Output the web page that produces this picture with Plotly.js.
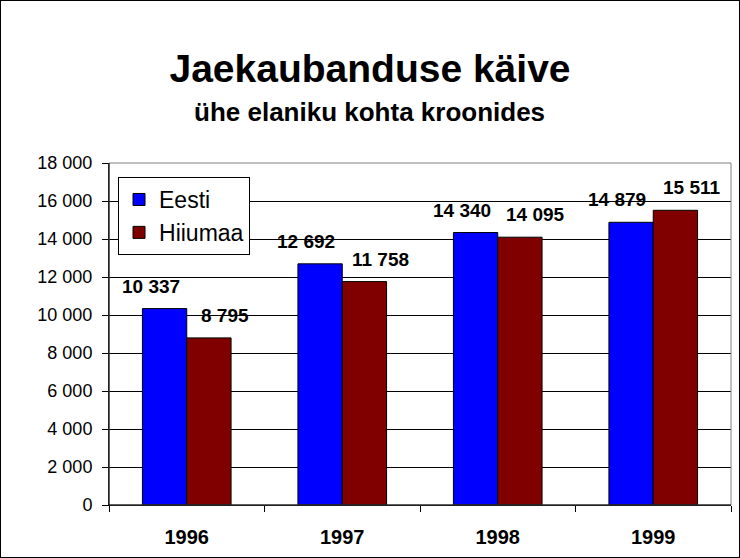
<!DOCTYPE html>
<html>
<head>
<meta charset="utf-8">
<script src="https://cdn.plot.ly/plotly-3.0.1.min.js"></script>
<style>
html,body{margin:0;padding:0;background:#fff;}
#wrap{width:740px;height:558px;box-sizing:border-box;border:1px solid #000;}
#chart{width:738px;height:556px;}
</style>
</head>
<body>
<div id="wrap"><div id="chart"></div></div>
<script>
const years = ["1996", "1997", "1998", "1999"];
const eesti = [10337, 12692, 14340, 14879];
const hiiumaa = [8795, 11758, 14095, 15511];
const seriesNames = ["Eesti", "Hiiumaa"];
const titleText = "Jaekaubanduse käive";
const subtitleText = "ühe elaniku kohta kroonides";

const FONT = "Liberation Sans, Arial, sans-serif";
const colors = ["#0000FF", "#800000"];
const series = [eesti, hiiumaa];
const labelXShift = [-36, 38];

const traces = series.map((vals, i) => ({
  type: "bar",
  x: years,
  y: vals,
  name: seriesNames[i],
  legendgroup: "g" + i,
  marker: {color: colors[i], line: {color: "#000", width: 1}},
  hoverinfo: "skip"
}));

function fmt(v){ return String(v).replace(/\B(?=(\d{3})+(?!\d))/g, " "); }

const annotations = [];
series.forEach((vals, i) => {
  vals.forEach((v, j) => {
    annotations.push({
      x: j, y: v, xref: "x", yref: "y",
      text: fmt(v), showarrow: false,
      xshift: labelXShift[i], yshift: 10,
      yanchor: "bottom",
      font: {family: FONT, size: 19, color: "#000", weight: "bold"}
    });
  });
});
annotations.push({
  xref: "paper", yref: "paper", x: 0.4196, y: 1.149,
  xanchor: "center", yanchor: "middle", showarrow: false,
  text: "<b>" + subtitleText + "</b>",
  font: {family: FONT, size: 26, color: "#000"}
});

const layout = {
  width: 738, height: 556,
  margin: {l: 108, r: 8, t: 162, b: 52},
  paper_bgcolor: "#fff", plot_bgcolor: "#fff",
  separators: ", ",
  showlegend: true,
  bargap: 0.43, bargroupgap: 0,
  barmode: "group",
  title: {
    text: "<b>" + titleText + "</b>",
    xref: "container", x: 0.5, xanchor: "center",
    yref: "container", y: 1 - 67/556, yanchor: "middle",
    font: {family: FONT, size: 39, color: "#000"}
  },
  xaxis: {
    type: "category",
    categoryorder: "array", categoryarray: years,
    range: [-0.5, years.length - 0.5], autorange: false,
    showline: true, linecolor: "#000", linewidth: 1,
    ticks: "outside", tickson: "boundaries", ticklen: 6, tickcolor: "#000",
    ticklabelstandoff: 14,
    tickfont: {family: FONT, size: 20, color: "#000", weight: "bold"},
    showgrid: false, zeroline: false, fixedrange: true
  },
  yaxis: {
    range: [0, 18000], autorange: false, dtick: 2000, tick0: 0,
    tickformat: ",d",
    showline: true, linecolor: "#000", linewidth: 1,
    ticks: "outside", ticklen: 6, tickcolor: "#000",
    ticklabelstandoff: 6,
    tickfont: {family: FONT, size: 18, color: "#000"},
    showgrid: true, gridcolor: "#000", gridwidth: 1,
    zeroline: false, fixedrange: true
  },
  legend: {
    x: 0.0145, y: 0.959, xanchor: "left", yanchor: "top",
    bgcolor: "#fff", bordercolor: "#000", borderwidth: 1,
    font: {family: FONT, size: 23, color: "#000"},
    tracegroupgap: 19, traceorder: "normal"
  },
  shapes: [{
    type: "rect", xref: "paper", yref: "paper", x0: 0, x1: 1, y0: 0, y1: 1,
    line: {color: "#808080", width: 1}, layer: "above"
  }, {
    type: "line", xref: "paper", yref: "paper", x0: 0, x1: 0, y0: 0, y1: 1,
    line: {color: "#000", width: 1}, layer: "above"
  }, {
    type: "line", xref: "paper", yref: "paper", x0: 0, x1: 1, y0: 0, y1: 0,
    line: {color: "#000", width: 1}, layer: "above"
  }],
  annotations: annotations
};

Plotly.newPlot("chart", traces, layout, {displayModeBar: false, staticPlot: true});
</script>
</body>
</html>
